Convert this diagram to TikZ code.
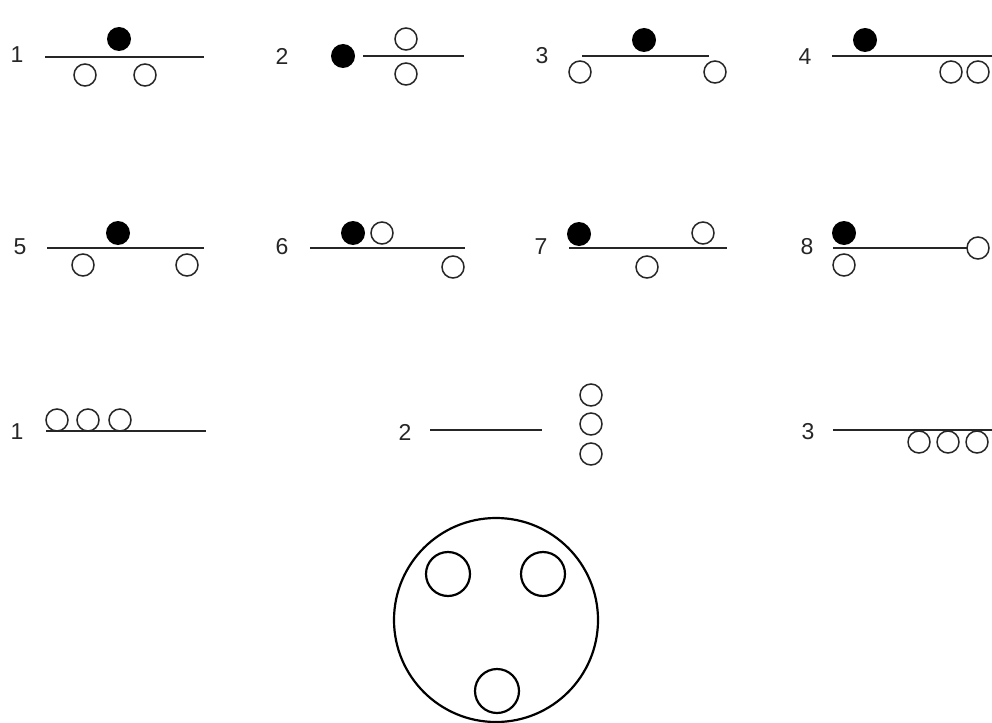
\documentclass[tikz,border=0pt]{standalone}
\usepackage{fontspec}
\setmainfont{Liberation Sans}

\begin{document}
\begin{tikzpicture}[x=1pt,y=-1pt,
  cushion/.style={line width=1.5pt,color=black!85},
  open ball/.style={line width=1.5pt,color=black!85},
  black ball/.style={fill=black},
  num/.style={font=\fontsize{23}{26}\selectfont,text=black!85}]
  \useasboundingbox (0,0) rectangle (992,722);

  % first row
  \node[num] (n1) at (17,55) {1};
  \draw[cushion] (45,57) -- (204,57);
  \fill[black ball] (119,39) circle (12pt);
  \draw[open ball] (85,75) circle (11pt);
  \draw[open ball] (145,75) circle (11pt);

  \node[num] (n2) at (282,56) {2};
  \draw[cushion] (363,56) -- (464,56);
  \fill[black ball] (343,56) circle (12pt);
  \draw[open ball] (406,39) circle (11pt);
  \draw[open ball] (406,74) circle (11pt);

  \node[num] (n3) at (542,56) {3};
  \draw[cushion] (582,56) -- (709,56);
  \fill[black ball] (644,40) circle (12pt);
  \draw[open ball] (580,72) circle (11pt);
  \draw[open ball] (715,72) circle (11pt);

  \node[num] (n4) at (805,57) {4};
  \draw[cushion] (832,56) -- (992,56);
  \fill[black ball] (865,40) circle (12pt);
  \draw[open ball] (951,72) circle (11pt);
  \draw[open ball] (978,72) circle (11pt);

  % second row
  \node[num] (n5) at (20,247) {5};
  \draw[cushion] (47,248) -- (204,248);
  \fill[black ball] (118,233) circle (12pt);
  \draw[open ball] (83,265) circle (11pt);
  \draw[open ball] (187,265) circle (11pt);

  \node[num] (n6) at (282,247) {6};
  \draw[cushion] (310,248) -- (465,248);
  \fill[black ball] (353,233) circle (12pt);
  \draw[open ball] (382,233) circle (11pt);
  \draw[open ball] (453,267) circle (11pt);

  \node[num] (n7) at (541,247) {7};
  \draw[cushion] (569,248) -- (727,248);
  \fill[black ball] (579,234) circle (12pt);
  \draw[open ball] (703,233) circle (11pt);
  \draw[open ball] (647,267) circle (11pt);

  \node[num] (n8) at (807,247) {8};
  \draw[cushion] (833,248) -- (967,248);
  \fill[black ball] (844,233) circle (12pt);
  \draw[open ball] (844,265) circle (11pt);
  \draw[open ball] (978,248) circle (11pt);

  % third row
  \node[num] (m1) at (17,432) {1};
  \draw[cushion] (46,431) -- (206,431);
  \draw[open ball] (57,420) circle (11pt);
  \draw[open ball] (88,420) circle (11pt);
  \draw[open ball] (120,420) circle (11pt);

  \node[num] (m2) at (405,432) {2};
  \draw[cushion] (430,430) -- (542,430);
  \draw[open ball] (591,395) circle (11pt);
  \draw[open ball] (591,424) circle (11pt);
  \draw[open ball] (591,454) circle (11pt);

  \node[num] (m3) at (808,432) {3};
  \draw[cushion] (833,430) -- (992,430);
  \draw[open ball] (919,442) circle (11pt);
  \draw[open ball] (948,442) circle (11pt);
  \draw[open ball] (977,442) circle (11pt);

  % rack
  \draw[line width=2.2pt] (496,620) circle (102pt);
  \draw[line width=2.2pt] (448,574) circle (22pt);
  \draw[line width=2.2pt] (543,574) circle (22pt);
  \draw[line width=2.2pt] (497,691) circle (22pt);
\end{tikzpicture}
\end{document}
